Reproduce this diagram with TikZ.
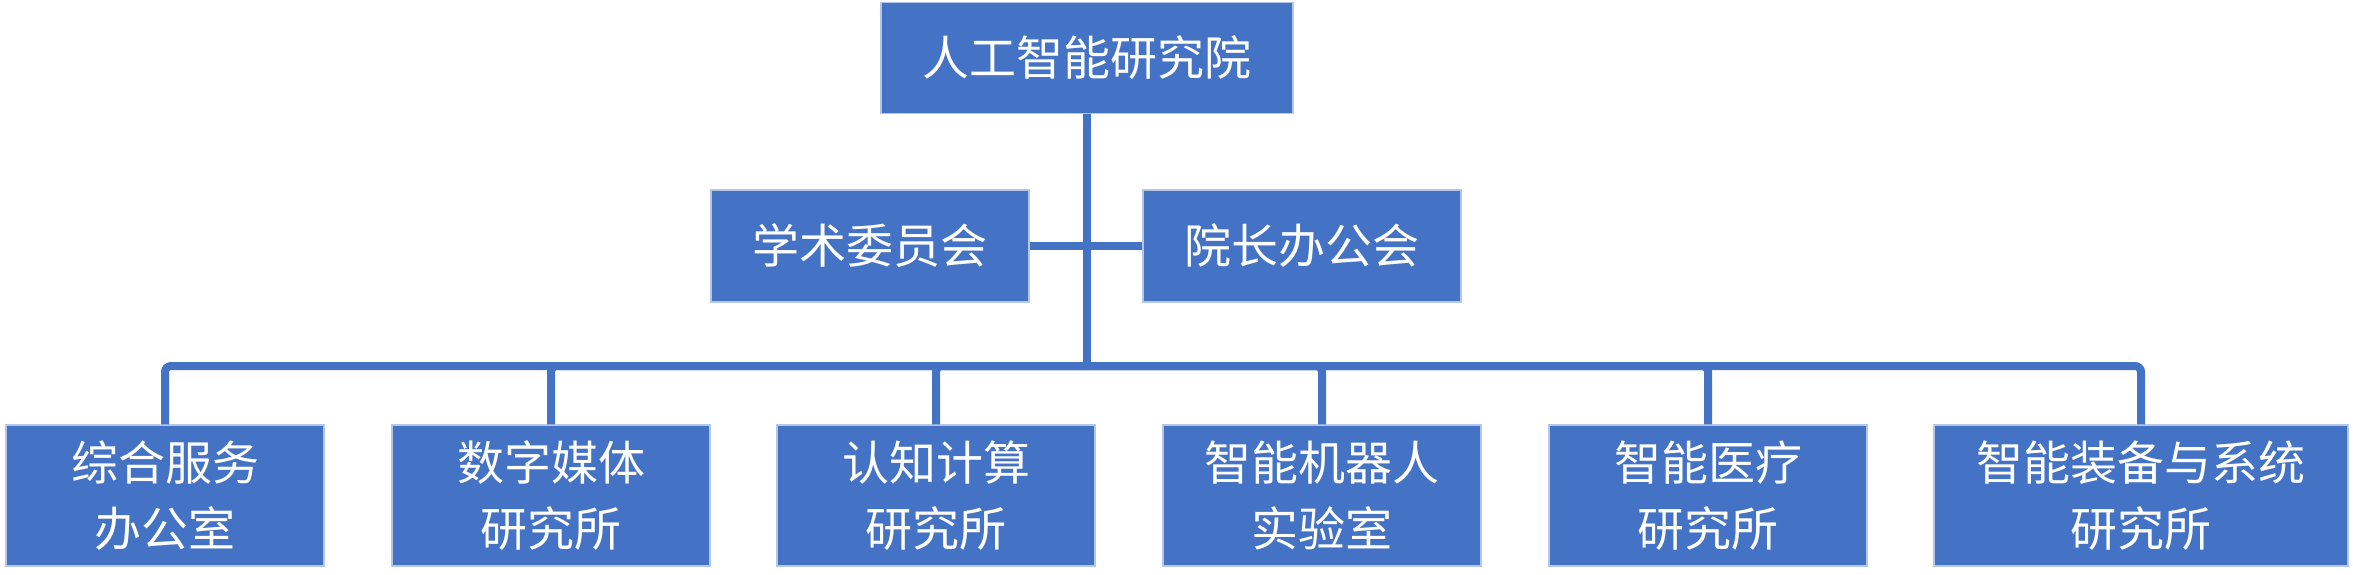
\documentclass[tikz,border=0pt]{standalone}
\usepackage{fontspec}
\setmainfont{Noto Sans CJK SC}
\definecolor{orgblue}{HTML}{4472C4}
\definecolor{orgedge}{HTML}{B4C7E7}

\begin{document}
\begin{tikzpicture}[x=0.5pt, y=-0.5pt,
    unit/.style={fill=orgblue, draw=orgedge, line width=0.6pt, text=white,
      minimum width=159pt, minimum height=70.5pt, inner sep=0pt, align=center,
      font=\fontsize{23.5}{33}\selectfont},
    link/.style={draw=orgblue, line width=4pt}]
  \useasboundingbox (0,0) rectangle (2353,574);

  % Top and the two councils
  \node[unit, minimum width=206pt, minimum height=55.5pt] (inst) at (1087,58) {人工智能研究院};
  \node[unit, minimum height=56pt] (acad) at (870,246) {学术委员会};
  \node[unit, minimum height=56pt] (dean) at (1302,246) {院长办公会};

  % Research units
  \node[unit] (office) at (165,495.5) {综合服务\\办公室};
  \node[unit] (media) at (551,495.5) {数字媒体\\研究所};
  \node[unit] (cogn) at (936,495.5) {认知计算\\研究所};
  \node[unit] (robot) at (1322,495.5) {智能机器人\\实验室};
  \node[unit] (med) at (1708,495.5) {智能医疗\\研究所};
  \node[unit, minimum width=207pt] (equip) at (2141,495.5) {智能装备与系统\\研究所};

  % Connectors
  \coordinate (bar) at (1087,366);
  \draw[link] (inst.south) -- (bar);
  \draw[link] (acad.east) -- (dean.west);
  \foreach \n in {office,media,cogn,robot,med,equip}
    \draw[link, rounded corners=3pt] (bar) -| (\n.north);
\end{tikzpicture}
\end{document}
